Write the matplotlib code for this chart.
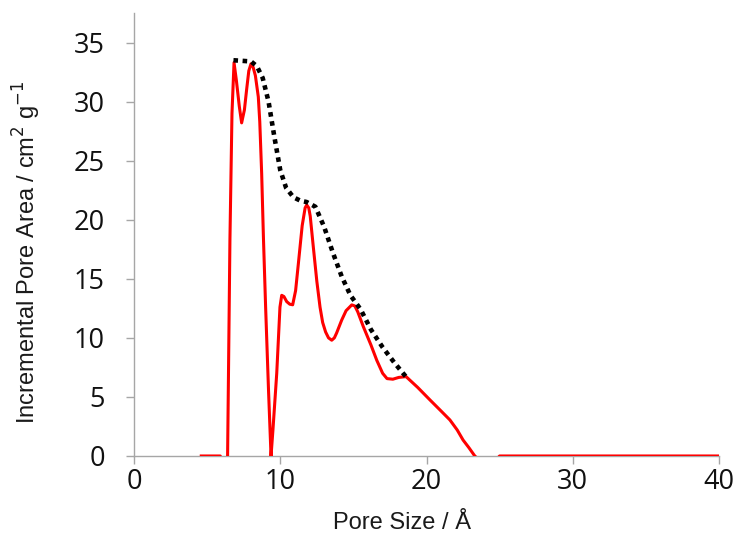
import matplotlib.pyplot as plt

# -------------------------------
# DATA
# -------------------------------

# red curve: incremental pore area
pore_size = [4.6, 5.9, 6.15, 6.4, 6.56, 6.7, 6.84, 7.0, 7.2, 7.36, 7.55, 7.7,
             7.85, 8.0, 8.15, 8.3, 8.5, 8.6, 8.73, 8.85, 9.0, 9.2, 9.37, 9.5,
             9.76, 9.98, 10.1, 10.25, 10.44, 10.65, 10.85, 11.05, 11.24, 11.5,
             11.7, 11.81, 11.95, 12.05, 12.26, 12.5, 12.72, 12.9, 13.1, 13.3,
             13.52, 13.7, 13.85, 14.2, 14.5, 14.89, 15.1, 15.3, 15.68, 16.2,
             16.6, 17.0, 17.3, 17.7, 18.1, 18.6, 19.4, 20.24, 21.0, 21.6, 22.1,
             22.5, 22.9, 23.3, 24.2, 25.0, 40.0]
pore_area = [0, 0, -2, 0, 18.3, 29.0, 33.3, 31.8, 29.6, 28.2, 29.3, 31.0,
             32.6, 33.2, 32.9, 32.2, 30.4, 28.3, 23.9, 18.5, 12.6, 5.5, 0, 2.2,
             7.0, 12.6, 13.6, 13.5, 13.07, 12.85, 12.8, 14.0, 16.3, 19.5,
             21.0, 21.25, 21.0, 20.3, 17.7, 14.8, 12.6, 11.3, 10.5, 10.0,
             9.8, 10.0, 10.4, 11.5, 12.3, 12.79, 12.7, 12.2, 10.95, 9.4,
             8.1, 7.0, 6.55, 6.5, 6.65, 6.72, 5.8, 4.74, 3.8, 3.05, 2.2,
             1.35, 0.7, 0, -1, 0, 0]

# black dotted envelope
env_size = [6.8, 8.0, 8.4, 8.8, 9.2, 9.6, 10.0, 10.4, 10.9, 11.4, 11.8, 12.4,
            13.0, 13.6, 14.2, 14.8, 15.5, 16.2, 17.0, 17.8, 18.6]
env_area = [33.5, 33.4, 33.0, 32.0, 30.0, 27.0, 24.2, 22.7, 21.9, 21.6, 21.5,
            21.1, 19.4, 17.2, 15.2, 13.6, 12.4, 10.7, 9.2, 7.9, 6.7]

x_ticks = [0, 10, 20, 30, 40]
y_ticks = [0, 5, 10, 15, 20, 25, 30, 35]

# -------------------------------
# PLOT
# -------------------------------

fig = plt.figure(figsize=(7.39, 5.33), dpi=100)
ax = fig.add_axes([0.1813, 0.1445, 0.7917, 0.8311])

ax.plot(pore_size, pore_area, color='#ff0000', linewidth=2.2, zorder=3)
ax.plot(env_size, env_area, color='black', linewidth=3.3,
        linestyle=(0, (1, 1.0)), dash_capstyle='butt', zorder=4)

ax.set_xlim(0, 40)
ax.set_ylim(0, 37.5)
ax.set_xticks(x_ticks)
ax.set_yticks(y_ticks)

for side in ['top', 'right']:
    ax.spines[side].set_visible(False)
for side in ['left', 'bottom']:
    ax.spines[side].set_color('#a6a6a6')
    ax.spines[side].set_linewidth(1.0)

ax.tick_params(axis='both', direction='out', length=6, width=1.0,
               color='#a6a6a6', labelsize=19.5)
ax.tick_params(axis='y', pad=15)
ax.tick_params(axis='x', pad=3)
for lab in ax.get_xticklabels() + ax.get_yticklabels():
    lab.set_family('Open Sans')
    lab.set_color('#111111')

# axis titles placed as in the reference (not centred on the axes)
fig.text(402 / 739, 4 / 533, 'Pore Size / Å', fontsize=17,
         family='Liberation Sans', color='#1a1a1a', ha='center', va='baseline')
fig.text(27 / 739, 1 - 252 / 533, 'Incremental Pore Area / cm$^{2}$ g$^{-1}$',
         fontsize=17, family='Liberation Sans', color='#1a1a1a',
         rotation=90, ha='center', va='center')

plt.savefig('out.png', dpi=100)
